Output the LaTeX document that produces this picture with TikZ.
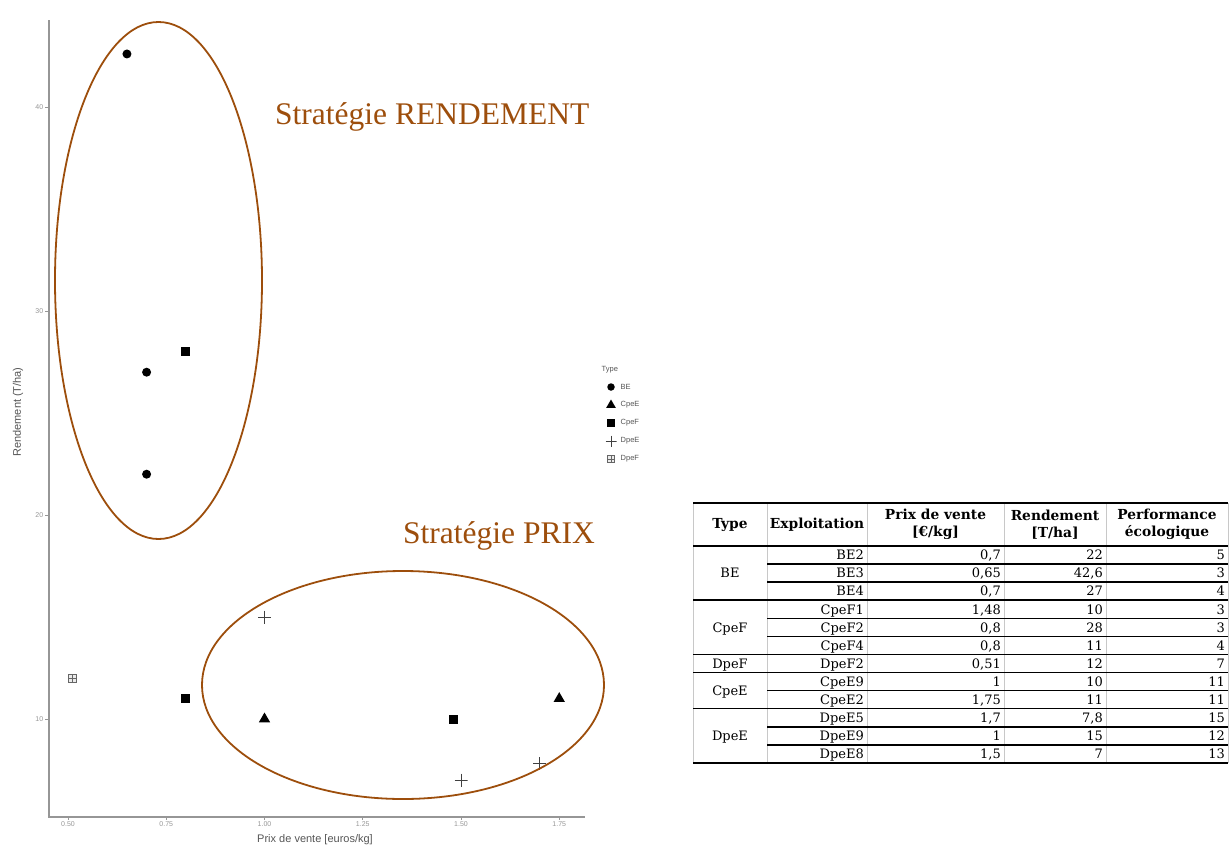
\documentclass[tikz,border=0pt]{standalone}
\usepackage{fontspec}
\setmainfont{Liberation Serif}
\setsansfont{Liberation Sans}
\newfontfamily\tabfont{DejaVu Serif}
\usetikzlibrary{shapes.geometric}
\definecolor{stratbrown}{RGB}{157,78,12}
\definecolor{axisgray}{RGB}{150,150,150}
\definecolor{labelgray}{RGB}{85,85,85}
\definecolor{gridgray}{RGB}{200,200,200}

\begin{document}
\begin{tikzpicture}[x=1pt,y=-1pt,
	strat/.style={draw=stratbrown,line width=1.8pt},
	strattext/.style={text=stratbrown,font=\fontsize{31.5}{36}\selectfont,inner sep=0pt},
	axis/.style={draw=axisgray,line width=1.3pt},
	ticklbl/.style={text=axisgray,font=\sffamily\fontsize{7}{8}\selectfont,inner sep=1.5pt},
	leglbl/.style={text=labelgray,font=\sffamily\fontsize{7.5}{9}\selectfont,inner sep=1.5pt},
	axistitle/.style={text=labelgray,font=\sffamily\fontsize{11}{13}\selectfont},
	ptBE/.style={circle,fill=black,inner sep=0pt,minimum size=9pt},
	ptCpeF/.style={rectangle,fill=black,inner sep=0pt,minimum size=9pt},
	ptCpeE/.style={regular polygon,regular polygon sides=3,fill=black,inner sep=0pt,minimum size=13pt},
	ptDpeE/.style={rectangle,inner sep=0pt,minimum size=13pt,
		path picture={\draw[black!75,line width=0.8pt] (path picture bounding box.north)--(path picture bounding box.south)
			(path picture bounding box.west)--(path picture bounding box.east);}},
	ptDpeF/.style={rectangle,draw=black!60,fill=black!8,line width=0.6pt,inner sep=0pt,minimum size=8pt,
		path picture={\draw[black!60,line width=0.6pt] (path picture bounding box.north)--(path picture bounding box.south)
			(path picture bounding box.west)--(path picture bounding box.east);}},
	rule/.style={black,line width=1.5pt},
	gridline/.style={gridgray,line width=0.9pt},
	head/.style={font=\tabfont\bfseries\fontsize{13.8}{17}\selectfont,align=center,inner sep=0pt},
	cell/.style={font=\tabfont\fontsize{13}{15}\selectfont,anchor=east,inner sep=0pt,text height=9.5pt,text depth=0pt}]
	\useasboundingbox (0,0) rectangle (1229,846);

	% scatter plot, data coordinates
	\begin{scope}[shift={(-128.5,923)},x=393pt,y=20.4pt]
		% axes
		\draw[axis] (0.4517,44.26) -- (0.4517,5.196) -- (1.8155,5.196);
		\foreach \x in {0.50,0.75,1.00,1.25,1.50,1.75}
		\draw[axis,line width=0.6pt] (\x,5.196) -- ++(0pt,-3pt) node[ticklbl,below] {\x};
		\foreach \y in {10,20,30,40}
		\draw[axis,line width=0.6pt] (0.4517,\y) -- ++(-4pt,0pt) node[ticklbl,left] {\y};

		% points
		\foreach \n/\x/\y in {be2/0.7/22,be3/0.65/42.6,be4/0.7/27}
		\node[ptBE] (\n) at (\x,\y) {};
		\foreach \n/\x/\y in {cpef1/1.48/10,cpef2/0.8/28,cpef4/0.8/11}
		\node[ptCpeF] (\n) at (\x,\y) {};
		\node[ptDpeF] (dpef2) at (0.51,12) {};
		\foreach \n/\x/\y in {cpee9/1/10,cpee2/1.75/11}
		\node[ptCpeE] (\n) at (\x,\y) {};
		\foreach \n/\x/\y in {dpee5/1.7/7.8,dpee9/1/15,dpee8/1.5/7}
		\node[ptDpeE] (\n) at (\x,\y) {};
	\end{scope}

	% axis titles
	\node[axistitle] (xtitle) at (315,840) {Prix de vente [euros/kg]};
	\node[axistitle,rotate=90] (ytitle) at (18,412) {Rendement (T/ha)};

	% legend
	\node[leglbl,anchor=west] (legtitle) at (600,370) {Type};
	\foreach \s/\m/\l [count=\i] in {ptBE/7.5pt/BE,ptCpeE/11pt/CpeE,ptCpeF/7.5pt/CpeF,ptDpeE/11pt/DpeE,ptDpeF/7pt/DpeF} {
		\node[\s,minimum size=\m] (leg\i) at (611,369+18*\i) {};
		\node[leglbl,anchor=west] (legl\i) at (619,369+18*\i) {\l};
	}

	% strategies
	\draw[strat] (158.5,280.5) ellipse [x radius=103.5pt, y radius=258.5pt];
	\draw[strat] (403,685) ellipse [x radius=201pt, y radius=114pt];
	\node[strattext,anchor=base west] (rendlbl) at (275,124) {Stratégie RENDEMENT};
	\node[strattext,anchor=base west] (prixlbl) at (403,543) {Stratégie PRIX};

	% table
	\foreach \x in {693,767,867,1004,1106,1228}
	\draw[gridline] (\x,503) -- (\x,763);
	\draw[rule] (693,503) -- (1228,503);
	\foreach \k in {0,3,6,7,9,12}
	\draw[rule] (693,546+18.08*\k) -- (1228,546+18.08*\k);
	\foreach \k in {1,2,4,5,8,10,11}
	\draw[rule] (767,546+18.08*\k) -- (1228,546+18.08*\k);

	\node[head] (hType) at (730,524.5) {Type};
	\node[head] (hExpl) at (817,524.5) {Exploitation};
	\node[head] (hPrix) at (935.5,524.5) {Prix de vente\\{[}€/kg]};
	\node[head] (hRend) at (1055,524.5) {Rendement\\{[}T/ha]};
	\node[head] (hPerf) at (1167,524.5) {Performance\\écologique};

	\foreach \e/\p/\r/\s [count=\i] in {BE2/{0,7}/22/5,BE3/{0,65}/{42,6}/3,BE4/{0,7}/27/4,
		CpeF1/{1,48}/10/3,CpeF2/{0,8}/28/3,CpeF4/{0,8}/11/4,DpeF2/{0,51}/12/7,
		CpeE9/1/10/11,CpeE2/{1,75}/11/11,DpeE5/{1,7}/{7,8}/15,DpeE9/1/15/12,DpeE8/{1,5}/7/13} {
		\node[cell] (e\i) at (864,536.96+18.08*\i) {\e};
		\node[cell] (p\i) at (1001,536.96+18.08*\i) {\p};
		\node[cell] (r\i) at (1103,536.96+18.08*\i) {\r};
		\node[cell] (s\i) at (1225,536.96+18.08*\i) {\s};
	}
	\foreach \t/\y in {BE/573.16,CpeF/627.4,DpeF/663.56,CpeE/690.64,DpeE/735.84}
	\node[cell,anchor=center] (t\t) at (730,\y) {\t};
\end{tikzpicture}
\end{document}
